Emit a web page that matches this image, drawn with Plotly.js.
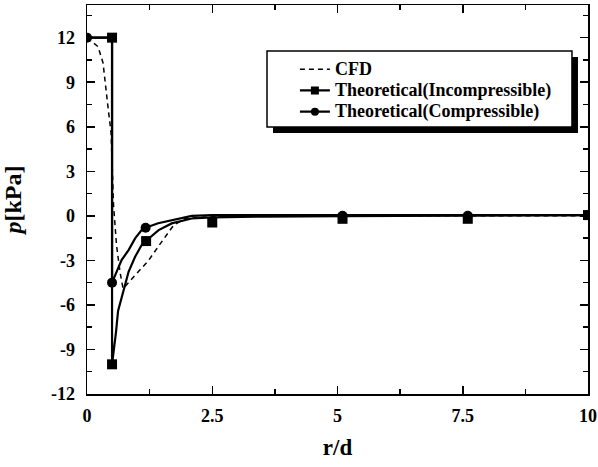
<!DOCTYPE html>
<html>
<head>
<meta charset="utf-8">
<script src="https://cdn.plot.ly/plotly-3.0.1.min.js"></script>
<style>html,body{margin:0;padding:0;background:#fff;}#chart{width:598px;height:467px;}</style>
</head>
<body>
<div id="chart"></div>
<script>
// ---- data ----
var cfdX = [0, 0.22, 0.32, 0.38, 0.42, 0.48, 0.5, 0.53, 0.59, 0.66, 0.72, 0.96, 1.23, 1.49, 1.73, 1.96, 2.5, 5, 10];
var cfdY = [12, 11.4, 10.3, 8.7, 7.3, 5.6, 3, 0.7, -2.0, -3.8, -4.9, -4.0, -3.0, -1.75, -0.63, -0.18, -0.05, 0, 0];

var incLineX = [0, 0.5, 0.5, 0.55, 0.58, 0.62, 0.73, 0.83, 0.96, 1.09, 1.18, 1.43, 1.69, 2.09, 2.5, 3.5, 5.1, 7.6, 10];
var incLineY = [12, 12, -10, -8.8, -7.8, -6.4, -5.1, -3.77, -2.76, -1.97, -1.68, -0.96, -0.51, -0.18, -0.1, -0.05, -0.02, 0, 0.05];
var incMarkX = [0.5, 0.5, 1.18, 2.5, 5.1, 7.6, 10];
var incMarkY = [12, -10, -1.7, -0.45, -0.2, -0.2, 0.05];

var comLineX = [0, 0.5, 0.5, 0.59, 0.69, 0.83, 0.96, 1.09, 1.17, 1.42, 1.76, 2.09, 2.5, 5.1, 7.6, 10];
var comLineY = [12, 12, -4.5, -3.77, -2.98, -2.31, -1.52, -0.96, -0.8, -0.5, -0.22, 0, 0.05, 0.05, 0.05, 0.05];
var comMarkX = [0, 0.5, 1.17, 5.1, 7.6, 10];
var comMarkY = [12, -4.5, -0.8, 0.0, 0.0, 0.05];

var legendNames = ['CFD', 'Theoretical(Incompressible)', 'Theoretical(Compressible)'];
var xTickVals = [0, 2.5, 5, 7.5, 10];
var xTickText = ['0', '2.5', '5', '7.5', '10'];
var yTickVals = [-12, -9, -6, -3, 0, 3, 6, 9, 12];
var yTickText = ['-12', '-9', '-6', '-3', '0', '3', '6', '9', '12'];

var FONT = 'Liberation Serif, Times New Roman, serif';
function big(s) { return '<span style="font-size:18px">' + s + '</span>'; }

var traces = [
  {x: cfdX, y: cfdY, mode: 'lines', name: big(legendNames[0]), line: {color: '#000', width: 1.5, dash: '5px,4px'}, legendrank: 1},
  {x: incLineX, y: incLineY, mode: 'lines', showlegend: false, line: {color: '#000', width: 2.2}, hoverinfo: 'skip'},
  {x: incMarkX, y: incMarkY, mode: 'markers', showlegend: false, marker: {symbol: 'square', size: 10, color: '#000'}},
  {x: comLineX, y: comLineY, mode: 'lines', showlegend: false, line: {color: '#000', width: 2.2}, hoverinfo: 'skip'},
  {x: comMarkX, y: comMarkY, mode: 'markers', showlegend: false, marker: {symbol: 'circle', size: 10, color: '#000'}},
  {x: [null], y: [null], mode: 'lines+markers', name: big(legendNames[1]), line: {color: '#000', width: 2.2}, marker: {symbol: 'square', size: 8, color: '#000'}, legendrank: 2},
  {x: [null], y: [null], mode: 'lines+markers', name: big(legendNames[2]), line: {color: '#000', width: 2.2}, marker: {symbol: 'circle', size: 8, color: '#000'}, legendrank: 3}
];

var axisCommon = {
  showgrid: false, zeroline: false, showline: true, linecolor: '#000', linewidth: 1.5,
  mirror: 'ticks', ticks: 'inside', ticklen: 8, tickwidth: 1.5, tickcolor: '#000',
  tickfont: {family: FONT, size: 18, color: '#000', weight: 'bold'}
};

var layout = {
  width: 598, height: 467,
  margin: {l: 87, r: 10, t: 5, b: 73},
  paper_bgcolor: '#fff', plot_bgcolor: '#fff',
  font: {family: FONT, color: '#000'},
  xaxis: Object.assign({}, axisCommon, {
    range: [0, 10], tickmode: 'array', tickvals: xTickVals, ticktext: xTickText,
    minor: {dtick: 1.25, ticklen: 5, tickwidth: 1.5, tickcolor: '#000', ticks: 'inside'},
    ticklabelstandoff: 5,
    title: {text: 'r/d', font: {family: FONT, size: 23, color: '#000', weight: 'bold'}, standoff: 14}
  }),
  yaxis: Object.assign({}, axisCommon, {
    range: [-12, 14.2], tickmode: 'array', tickvals: yTickVals, ticktext: yTickText,
    minor: {dtick: 1.5, ticklen: 5, tickwidth: 1.5, tickcolor: '#000', ticks: 'inside'},
    ticklabelstandoff: 7,
    title: {text: '<i>p</i>[kPa]', font: {family: FONT, size: 24, color: '#000', weight: 'bold'}, standoff: 25}
  }),
  showlegend: true,
  legend: {
    x: 0.415, y: 0.875, xanchor: 'left', yanchor: 'top',
    bgcolor: 'rgba(0,0,0,0)', borderwidth: 0, tracegroupgap: 0,
    font: {family: FONT, size: 14, color: '#000', weight: 'bold'}
  },
  shapes: [
    {type: 'rect', xref: 'paper', yref: 'paper', x0: 0.3713, x1: 0.980, y0: 0.671, y1: 0.8663, fillcolor: '#000', line: {width: 0}, layer: 'above'},
    {type: 'rect', xref: 'paper', yref: 'paper', x0: 0.3593, x1: 0.968, y0: 0.6864, y1: 0.8817, fillcolor: '#fff', line: {color: '#000', width: 1.5}, layer: 'above'}
  ]
};

Plotly.newPlot('chart', traces, layout, {displayModeBar: false, staticPlot: true});
</script>
</body>
</html>
